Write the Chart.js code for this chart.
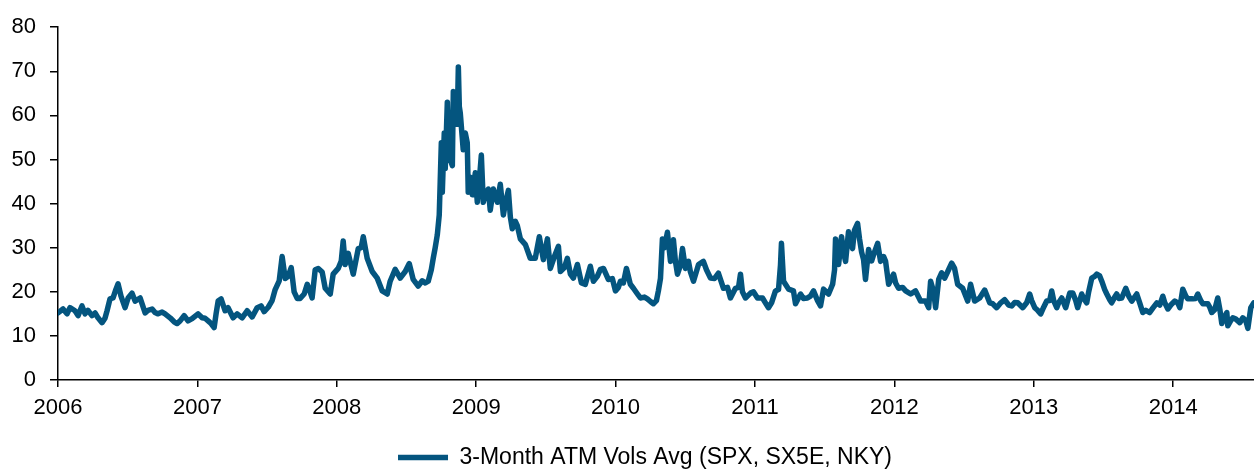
<!DOCTYPE html>
<html>
<head>
<meta charset="utf-8">
<script src="https://cdn.jsdelivr.net/npm/chart.js@4.4.0/dist/chart.umd.min.js"></script>
<style>
html,body{margin:0;padding:0;background:#fff;}
canvas{display:block;}
</style>
</head>
<body>
<canvas id="myChart" width="1254" height="469"></canvas>
<script>
var seriesName = '3-Month ATM Vols Avg (SPX, SX5E, NKY)';
var startYear = 2006;
var endYear = 2014.58;

// time of each reading, in years after 1 Jan 2006
var yearOffset = [
  0,.036,.065,.086,.122,.144,.172,.194,.215,.244,.266,.287,.316,.337,.352,.373,.395,.416,.431,.452,
  .481,.503,.531,.553,.589,.625,.646,.675,.696,.718,.747,.768,.804,.833,.854,.876,.905,.933,.962,
  1.005,1.034,1.055,1.077,1.098,1.120,1.134,1.149,1.170,1.199,1.220,1.256,1.285,1.321,1.357,1.393,1.429,1.457,1.479,1.508,
  1.536,1.558,1.587,1.608,1.630,1.651,1.673,1.694,1.716,1.737,1.766,1.788,1.809,1.823,1.845,1.867,1.895,1.917,1.953,1.974,
  2.010,2.032,2.046,2.060,2.082,2.118,2.154,2.175,2.190,2.218,2.254,2.290,2.326,2.362,2.383,2.419,2.455,2.491,2.520,2.548,
  2.584,2.613,2.635,2.656,2.678,2.692,2.706,2.721,2.735,2.742,2.750,2.757,2.771,2.778,2.793,2.800,2.814,2.829,2.836,2.850,
  2.864,2.872,2.879,2.886,2.900,2.907,2.922,2.936,2.943,2.958,2.972,2.994,
  3.008,3.022,3.037,3.051,3.065,3.087,3.101,3.123,3.152,3.173,3.195,3.209,3.231,3.245,3.259,3.281,3.295,3.317,3.353,3.388,
  3.424,3.453,3.482,3.511,3.532,3.561,3.590,3.604,3.633,3.654,3.676,3.697,3.726,3.755,3.783,3.819,3.841,3.869,3.891,3.913,
  3.948,3.977,3.999,
  4.020,4.035,4.056,4.078,4.106,4.128,4.157,4.178,4.207,4.228,4.250,4.271,4.293,4.307,4.322,4.336,4.350,4.372,4.394,4.415,
  4.429,4.444,4.465,4.480,4.501,4.523,4.537,4.559,4.595,4.630,4.652,4.681,4.709,4.738,4.774,4.803,4.824,4.860,4.882,4.896,
  4.910,4.932,4.968,4.989,
  5.018,5.054,5.075,5.097,5.119,5.147,5.169,5.183,5.190,5.205,5.241,5.276,5.291,5.327,5.348,5.377,5.398,5.420,5.449,5.470,
  5.492,5.528,5.557,5.571,5.578,5.600,5.621,5.635,5.650,5.671,5.700,5.714,5.736,5.750,5.765,5.779,5.793,5.815,5.837,5.851,
  5.880,5.901,5.923,5.937,5.959,5.994,
  6.009,6.030,6.059,6.081,6.117,6.152,6.188,6.224,6.246,6.260,6.282,6.296,6.318,6.339,6.361,6.389,6.411,6.432,6.454,6.490,
  6.526,6.547,6.576,6.612,6.648,6.684,6.705,6.734,6.763,6.791,6.820,6.842,6.863,6.885,6.921,6.949,6.971,6.985,
  7.007,7.028,7.050,7.071,7.093,7.114,7.129,7.143,7.165,7.179,7.201,7.229,7.258,7.280,7.301,7.315,7.344,7.358,7.380,7.394,
  7.416,7.437,7.452,7.473,7.488,7.509,7.524,7.545,7.559,7.581,7.595,7.610,7.631,7.660,7.682,7.703,7.739,7.760,7.782,7.804,
  7.832,7.854,7.883,7.904,7.926,7.940,7.962,7.983,
  8.012,8.033,8.048,8.069,8.091,8.105,8.141,8.162,8.177,8.198,8.213,8.249,8.263,8.277,8.299,8.320,8.335,8.349,8.371,8.385,
  8.392,8.414,8.428,8.450,8.478,8.500,8.521,8.536,8.557,8.579
];

// 3M ATM implied vol average
var atmVol = [
  15.2,16.1,15.0,16.4,15.7,14.6,16.8,15.0,15.8,14.6,15.2,14.1,13.0,14.0,15.7,18.4,18.6,20.6,21.8,19.0,
  16.4,18.6,19.7,17.9,18.6,15.2,15.8,16.1,15.3,15.0,15.4,15.0,14.1,13.2,12.8,13.4,14.6,13.4,13.9,
  15.0,14.1,14.0,13.4,12.8,11.9,15.0,17.9,18.4,15.7,16.4,14.1,15.0,14.1,15.7,14.3,16.4,16.8,15.5,16.5,
  18.0,20.5,22.5,28.0,23.0,23.5,25.5,20.0,18.5,18.5,19.5,21.7,20.0,18.6,25.0,25.3,24.5,20.8,19.5,24.0,
  25.3,27.0,31.5,26.2,28.7,24.0,29.8,30.0,32.5,27.6,24.6,23.1,20.2,19.5,22.4,25.1,23.1,24.6,26.4,22.8,
  21.3,22.5,22.0,22.4,25.0,27.6,30.0,32.9,37.4,45.0,53.8,42.6,56.0,48.0,63.0,55.0,50.0,48.6,65.4,60.0,
  58.0,71.0,62.0,60.5,55.0,52.2,56.0,53.8,42.6,46.0,42.0,47.0,
  40.3,45.0,51.0,40.3,42.0,43.3,38.5,43.3,40.3,44.4,37.4,40.0,43.0,37.0,34.3,36.0,35.0,32.0,30.7,27.6,
  27.6,32.5,27.3,32.0,25.3,28.0,30.3,24.6,25.5,27.6,24.0,23.1,26.2,22.0,21.7,25.8,22.4,23.5,25.1,25.3,
  22.8,23.0,20.2,
  21.0,22.4,22.0,25.3,21.7,20.8,19.5,18.6,18.8,18.4,17.8,17.3,18.0,20.2,23.0,32.0,30.0,33.5,26.9,31.8,
  27.0,24.0,26.0,29.8,25.3,26.9,24.5,22.4,26.2,26.9,25.0,23.1,23.0,24.2,20.8,21.0,18.6,20.8,21.0,24.0,
  20.0,18.6,19.7,20.0,
  18.6,18.6,17.5,16.4,17.5,20.2,20.5,26.0,31.0,22.4,20.6,20.2,17.3,19.5,18.5,18.6,19.0,20.2,18.0,16.8,
  20.6,19.5,21.7,25.0,32.0,26.2,32.5,29.0,26.9,33.6,29.8,34.0,35.5,32.0,29.0,27.3,22.8,29.6,27.0,28.4,
  31.0,26.9,28.0,26.9,21.7,24.0,
  22.0,20.8,21.0,20.2,19.5,20.2,17.9,17.9,16.4,22.4,20.0,16.4,22.8,24.3,23.1,25.0,26.5,25.3,21.7,20.8,
  17.9,21.7,17.9,18.6,20.4,17.5,17.3,16.4,17.5,18.2,17.0,16.8,17.6,17.5,16.4,17.5,19.5,18.0,
  16.4,15.8,15.0,16.5,17.9,18.0,20.2,18.0,16.4,17.5,18.6,16.4,19.7,19.7,18.0,16.4,19.5,18.5,17.5,20.0,
  23.1,23.5,24.0,23.6,22.4,20.5,19.5,18.2,17.5,18.8,19.5,18.5,18.6,20.8,19.0,17.9,19.5,17.5,15.3,15.8,
  15.3,16.3,17.5,17.0,19.0,17.5,16.1,17.0,
  17.9,17.5,16.4,20.6,19.0,18.4,18.4,18.5,19.5,18.0,17.3,17.3,16.5,15.3,16.0,18.6,16.0,12.8,14.5,15.3,
  12.3,13.5,14.1,13.8,13.0,14.1,13.5,11.7,16.4,17.5
];

var points = [];
for (var i = 0; i < yearOffset.length; i++) {
    points.push({x: startYear + yearOffset[i], y: atmVol[i]});
}

var lineColor = '#04557f';
var fontFamily = '"Liberation Sans", Arial, sans-serif';

// the original legend sits a little right of the page centre
var legendShift = {
    id: 'legendShift',
    afterLayout: function(chart){
        chart.legend.left += 18;
        chart.legend.right += 18;
    }
};

var ctx = document.getElementById('myChart');
var myChart = new Chart(ctx, {
    type: 'line',
    data: {
        datasets: [
            {
                label: seriesName,
                data: points,
                borderColor: lineColor,
                backgroundColor: lineColor,
                borderWidth: 5.5,
                borderJoinStyle: 'round',
                borderCapStyle: 'round',
                pointRadius: 0,
                tension: 0
            }
        ]
    },
    plugins: [legendShift],
    options: {
        responsive: false,
        animation: false,
        devicePixelRatio: 1,
        layout: {padding: {left: 0, top: 23, right: 0, bottom: -10}},
        plugins: {
            legend: {
                position: 'bottom',
                labels: {
                    usePointStyle: true,
                    pointStyle: 'line',
                    pointStyleWidth: 50,
                    padding: 0,
                    color: '#000',
                    font: {family: fontFamily, size: 23}
                }
            },
            tooltip: {enabled: false}
        },
        scales: {
            x: {
                type: 'linear',
                min: startYear,
                max: endYear,
                ticks: {
                    stepSize: 1,
                    includeBounds: false,
                    maxRotation: 0,
                    padding: 8,
                    color: '#000',
                    font: {family: fontFamily, size: 22},
                    callback: function(v){ return String(Math.round(v)); }
                },
                grid: {drawOnChartArea: false, tickLength: 7, color: '#000', lineWidth: 1.5},
                border: {color: '#000', width: 1.5},
                afterFit: function(s){ s.height = 66; }
            },
            y: {
                min: 0,
                max: 80,
                ticks: {
                    stepSize: 10,
                    padding: 14,
                    color: '#000',
                    font: {family: fontFamily, size: 22}
                },
                grid: {drawOnChartArea: false, tickLength: 8, color: '#000', lineWidth: 1.5},
                border: {color: '#000', width: 1.5},
                afterFit: function(s){ s.width = 58; }
            }
        }
    }
});
</script>
</body>
</html>
